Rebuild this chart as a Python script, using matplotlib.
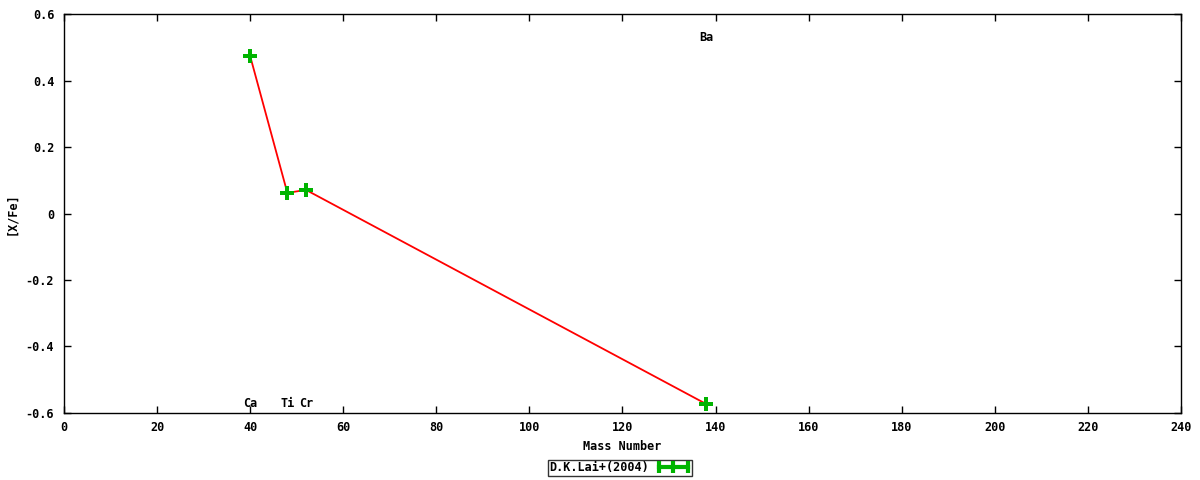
import matplotlib
matplotlib.use("Agg")
import matplotlib.pyplot as plt
from matplotlib.lines import Line2D

# D.K.Lai+(2004) abundances
elements = ["Ca", "Ti", "Cr", "Ba"]
mass = [40, 48, 52, 138]
xfe = [0.474, 0.062, 0.071, -0.573]
label_y = [-0.57, -0.57, -0.57, 0.53]

green = '#00b400'

plt.rcParams['font.family'] = 'DejaVu Sans Mono'
plt.rcParams['font.weight'] = 'bold'
plt.rcParams['font.size'] = 8.5

fig = plt.figure(figsize=(12, 4.8), dpi=100)
ax = fig.add_axes([0.0533, 0.1396, 0.9308, 0.8312])

ax.plot(mass, xfe, color='red', lw=1.3, zorder=2)
ax.plot(mass, xfe, 'P', color=green, ms=10, mew=0, zorder=3)

for el, m, y in zip(elements, mass, label_y):
    ax.text(m, y, el, ha='center', va='center', fontweight='bold')

ax.set_xlim(0, 240)
ax.set_ylim(-0.6, 0.6)
ax.set_xticks(range(0, 241, 20))
ax.set_yticks([-0.6, -0.4, -0.2, 0, 0.2, 0.4, 0.6])
ax.set_yticklabels(['-0.6', '-0.4', '-0.2', '0', '0.2', '0.4', '0.6'])
ax.tick_params(direction='in', top=True, right=True, length=5, width=1)
ax.tick_params(axis='x', pad=6)
ax.tick_params(axis='y', pad=7)
for s in ax.spines.values():
    s.set_linewidth(1)

# axis titles placed like the gnuplot original
fig.text(622 / 1200, 1 - 447 / 480, 'Mass Number', ha='center', va='center')
fig.text(12 / 1200, 1 - 214 / 480, '[X/Fe]', ha='center', va='center',
         rotation=90)

handle = Line2D([], [], color=green, lw=3, marker='|', ms=9, mew=3)
leg = fig.legend([handle], ['D.K.Lai+(2004)'], loc='center',
                 bbox_to_anchor=(620 / 1200, 1 - 468 / 480),
                 frameon=True, fancybox=False, edgecolor='black',
                 markerfirst=False, numpoints=3,
                 borderpad=0.1, handlelength=3, handletextpad=0.6,
                 borderaxespad=0)
leg.get_frame().set_linewidth(1)

fig.savefig('out.png', dpi=100)
